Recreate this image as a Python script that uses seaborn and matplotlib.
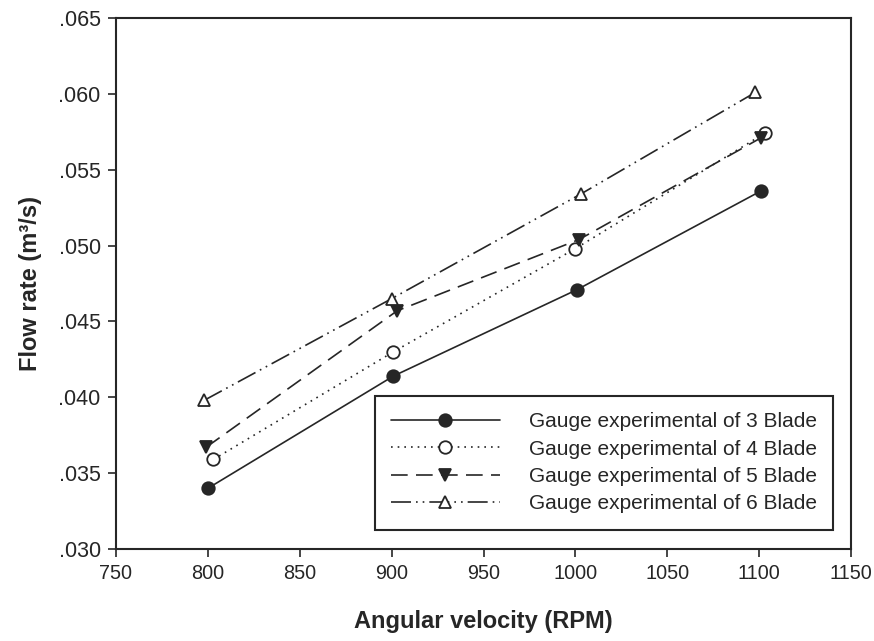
import matplotlib
matplotlib.use("Agg")
import matplotlib.pyplot as plt
import matplotlib.ticker as mticker
import seaborn as sns
import pandas as pd

# ---- data ----
labels = ["Gauge experimental of 3 Blade", "Gauge experimental of 4 Blade",
          "Gauge experimental of 5 Blade", "Gauge experimental of 6 Blade"]
rpm_3 = [800, 901, 1001, 1101]
flow_3 = [0.0340, 0.0414, 0.0471, 0.0536]
rpm_4 = [803, 901, 1000, 1103]
flow_4 = [0.0359, 0.0430, 0.0498, 0.0574]
rpm_5 = [799, 903, 1002, 1101]
flow_5 = [0.0367, 0.0457, 0.0504, 0.0571]
rpm_6 = [798, 900, 1003, 1098]
flow_6 = [0.0398, 0.0465, 0.0534, 0.0601]

x_ticks = [750, 800, 850, 900, 950, 1000, 1050, 1100, 1150]
y_ticks = [0.030, 0.035, 0.040, 0.045, 0.050, 0.055, 0.060, 0.065]

sns.set_theme(style="white")
plt.rcParams["font.family"] = ["Liberation Sans", "DejaVu Sans"]

ink = "#262626"
fig = plt.figure(figsize=(8.74, 6.41), dpi=100)
ax = fig.add_axes([116 / 874, 1 - 549 / 641, 735 / 874, 531 / 641])

series = [
    (rpm_3, flow_3, dict(marker="o", markerfacecolor=ink, linestyle="-")),
    (rpm_4, flow_4, dict(marker="o", markerfacecolor="white", linestyle=(0, (1, 3)))),
    (rpm_5, flow_5, dict(marker="v", markerfacecolor=ink, linestyle=(0, (10, 5)))),
    (rpm_6, flow_6, dict(marker="^", markerfacecolor="white",
                         linestyle=(0, (12, 3, 1, 3, 1, 3)))),
]
for (xs, ys, st), lab in zip(series, labels):
    df = pd.DataFrame({"rpm": xs, "flow": ys})
    sns.lineplot(data=df, x="rpm", y="flow", ax=ax, color=ink, linewidth=1.2,
                 markersize=9, markeredgecolor=ink, markeredgewidth=1.3,
                 label=lab, **st)

ax.set_xlim(750, 1150)
ax.set_ylim(0.030, 0.065)
ax.set_xticks(x_ticks)
ax.set_yticks(y_ticks)
ax.yaxis.set_major_formatter(mticker.FuncFormatter(lambda v, p: f"{v:.3f}".lstrip("0")))
ax.tick_params(axis="both", which="major", direction="out", length=6, width=1.2,
               color=ink, labelcolor=ink, bottom=True, left=True,
               top=False, right=False, pad=5)
ax.tick_params(axis="y", labelsize=15.5)
ax.tick_params(axis="x", labelsize=14.3)
for s in ax.spines.values():
    s.set_color(ink)
    s.set_linewidth(1.5)
    s.set_visible(True)

ax.set_xlabel("Angular velocity (RPM)", fontsize=17, fontweight="bold", color=ink, labelpad=19)
ax.set_ylabel("Flow rate (m³/s)", fontsize=17, fontweight="bold", color=ink, labelpad=12)

leg = ax.legend(loc="lower right", bbox_to_anchor=(0.976, 0.036), fontsize=15,
                frameon=True, fancybox=False, edgecolor=ink, framealpha=1,
                handlelength=5.2, handletextpad=1.4, labelspacing=0.4,
                borderpad=0.8, borderaxespad=0)
leg.get_frame().set_linewidth(1.5)
for t in leg.get_texts():
    t.set_color(ink)

fig.savefig("out.png", dpi=100, facecolor="white")
